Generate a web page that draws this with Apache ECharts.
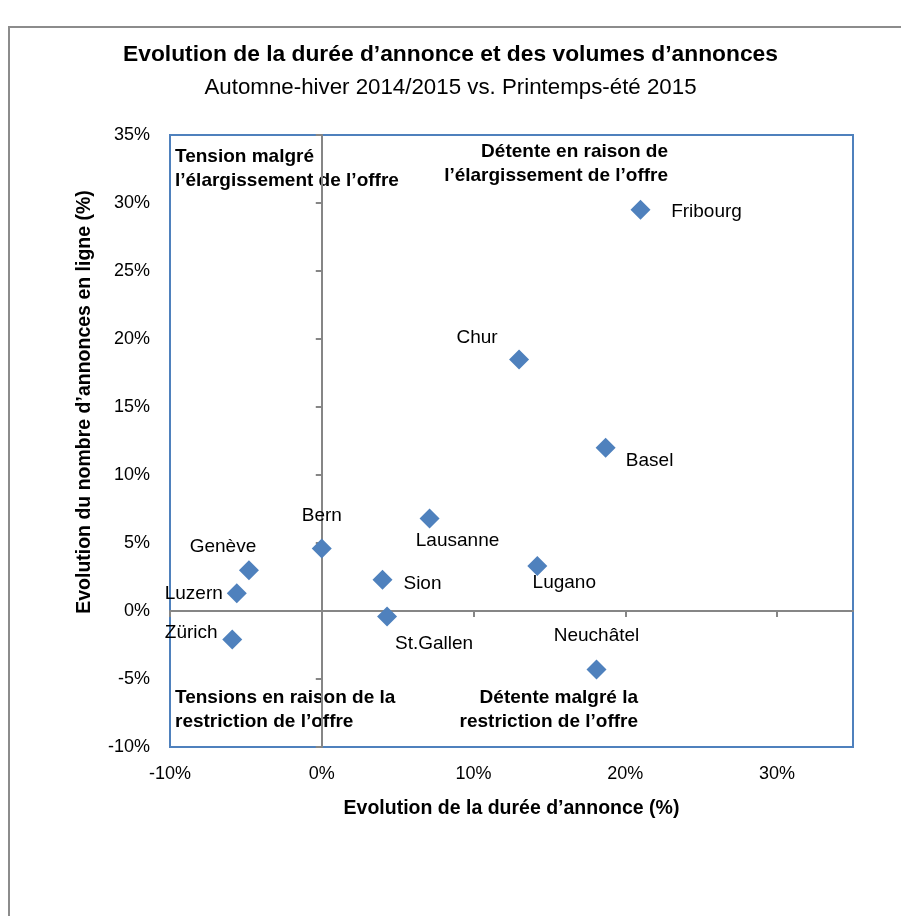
<!DOCTYPE html>
<html>
<head>
<meta charset="utf-8">
<script src="https://cdn.jsdelivr.net/npm/echarts@6/dist/echarts.min.js"></script>
<style>
  html, body { margin: 0; padding: 0; background: #fff; }
  #chart { width: 901px; height: 916px; }
</style>
</head>
<body>
<div id="chart"></div>
<script>
// values (percent)
var cities = ['Fribourg', 'Chur', 'Basel', 'Lausanne', 'Lugano', 'Bern', 'Genève', 'Sion', 'Luzern', 'St.Gallen', 'Zürich', 'Neuchâtel'];
var dureeAnnonce = [21.0, 13.0, 18.7, 7.1, 14.2, 0.0, -4.8, 4.0, -5.6, 4.3, -5.9, 18.1];
var nombreAnnonces = [29.5, 18.5, 12.0, 6.8, 3.3, 4.6, 3.0, 2.3, 1.3, -0.4, -2.1, -4.3];
var xTicks = [-10, 0, 10, 20, 30];
var yTicks = [-10, -5, 0, 5, 10, 15, 20, 25, 30, 35];

var font = 'Liberation Sans, Arial, sans-serif';
var blue = '#4F81BD';
var grey = '#868686';

// where each city name sits relative to its marker (px)
var labelOffset = {
  'Fribourg': [66, 2], 'Chur': [-42, -22], 'Basel': [44, 13], 'Lausanne': [28, 22],
  'Lugano': [27, 17], 'Bern': [0, -33], 'Genève': [-26, -23], 'Sion': [40, 4],
  'Luzern': [-43, 0], 'St.Gallen': [47, 27], 'Zürich': [-41, -7], 'Neuchâtel': [0, -34]
};

var points = cities.map(function (c, i) {
  return { name: c, value: [dureeAnnonce[i], nombreAnnonces[i]], label: { offset: labelOffset[c] } };
});

var myChart = echarts.init(document.getElementById('chart'));
myChart.setOption({
  animation: false,
  title: [
    { text: 'Evolution de la durée d’annonce et des volumes d’annonces', left: 'center', top: 43, padding: 0,
      textStyle: { fontFamily: font, fontSize: 22.8, fontWeight: 'bold', color: '#000' } },
    { text: 'Automne-hiver 2014/2015 vs. Printemps-été 2015', left: 'center', top: 77, padding: 0,
      textStyle: { fontFamily: font, fontSize: 22.3, fontWeight: 'normal', color: '#000' } }
  ],
  grid: { left: 170, right: 48, top: 135, bottom: 169, show: true, borderColor: blue, borderWidth: 2,
          backgroundColor: 'transparent', outerBoundsMode: 'none' },
  xAxis: [
    { type: 'value', min: -10, max: 35, interval: 10, position: 'bottom',
      axisLine: { show: false, onZero: false }, axisTick: { show: false }, splitLine: { show: false },
      axisLabel: { customValues: xTicks, formatter: '{value}%', margin: 18, fontSize: 18, fontFamily: font, color: '#000' },
      name: 'Evolution de la durée d’annonce (%)', nameLocation: 'middle', nameGap: 52,
      nameTextStyle: { fontSize: 19.5, fontWeight: 'bold', fontFamily: font, color: '#000' } },
    { type: 'value', min: -10, max: 35, interval: 10, position: 'bottom',
      axisLine: { onZero: true, onZeroAxisIndex: 0, lineStyle: { color: grey, width: 2 } },
      axisTick: { customValues: xTicks, length: 6, lineStyle: { color: grey, width: 2 } },
      axisLabel: { show: false }, splitLine: { show: false } }
  ],
  yAxis: [
    { type: 'value', min: -10, max: 35, interval: 5, position: 'left',
      axisLine: { show: false, onZero: false }, axisTick: { show: false }, splitLine: { show: false },
      axisLabel: { customValues: yTicks, formatter: '{value}%', margin: 20, fontSize: 18, fontFamily: font, color: '#000' } },
    { type: 'value', min: -10, max: 35, interval: 5, position: 'left',
      axisLine: { onZero: true, onZeroAxisIndex: 0, lineStyle: { color: grey, width: 2 } },
      axisTick: { customValues: yTicks, length: 6, lineStyle: { color: grey, width: 2 } },
      axisLabel: { show: false }, splitLine: { show: false } }
  ],
  graphic: [
    { type: 'rect', x: 0, y: 0, z: -10, shape: { x: 9, y: 27, width: 1000, height: 1000 },
      style: { fill: 'none', stroke: '#8c8c8c', lineWidth: 2 } },
    { type: 'text', x: 85, y: 402, rotation: Math.PI / 2,
      style: { text: 'Evolution du nombre d’annonces en ligne (%)', fontSize: 19.5, fontWeight: 'bold', fontFamily: font,
               fill: '#000', align: 'center', verticalAlign: 'middle' } },
    { type: 'text', x: 175, y: 145,
      style: { text: 'Tension malgré\nl’élargissement de l’offre', fontSize: 19, fontWeight: 'bold', fontFamily: font,
               fill: '#000', align: 'left', verticalAlign: 'top', lineHeight: 24 } },
    { type: 'text', x: 668, y: 140,
      style: { text: 'Détente en raison de\nl’élargissement de l’offre', fontSize: 19, fontWeight: 'bold', fontFamily: font,
               fill: '#000', align: 'right', verticalAlign: 'top', lineHeight: 24 } },
    { type: 'text', x: 175, y: 686,
      style: { text: 'Tensions en raison de la\nrestriction de l’offre', fontSize: 19, fontWeight: 'bold', fontFamily: font,
               fill: '#000', align: 'left', verticalAlign: 'top', lineHeight: 24 } },
    { type: 'text', x: 638, y: 686,
      style: { text: 'Détente malgré la\nrestriction de l’offre', fontSize: 19, fontWeight: 'bold', fontFamily: font,
               fill: '#000', align: 'right', verticalAlign: 'top', lineHeight: 24 } }
  ],
  series: [{
    type: 'scatter',
    xAxisIndex: 0,
    yAxisIndex: 0,
    symbol: 'diamond',
    symbolSize: 20,
    itemStyle: { color: blue, opacity: 1 },
    label: { show: true, position: 'inside', formatter: '{b}', fontSize: 19, fontFamily: font, color: '#000' },
    data: points
  }]
});
</script>
</body>
</html>
